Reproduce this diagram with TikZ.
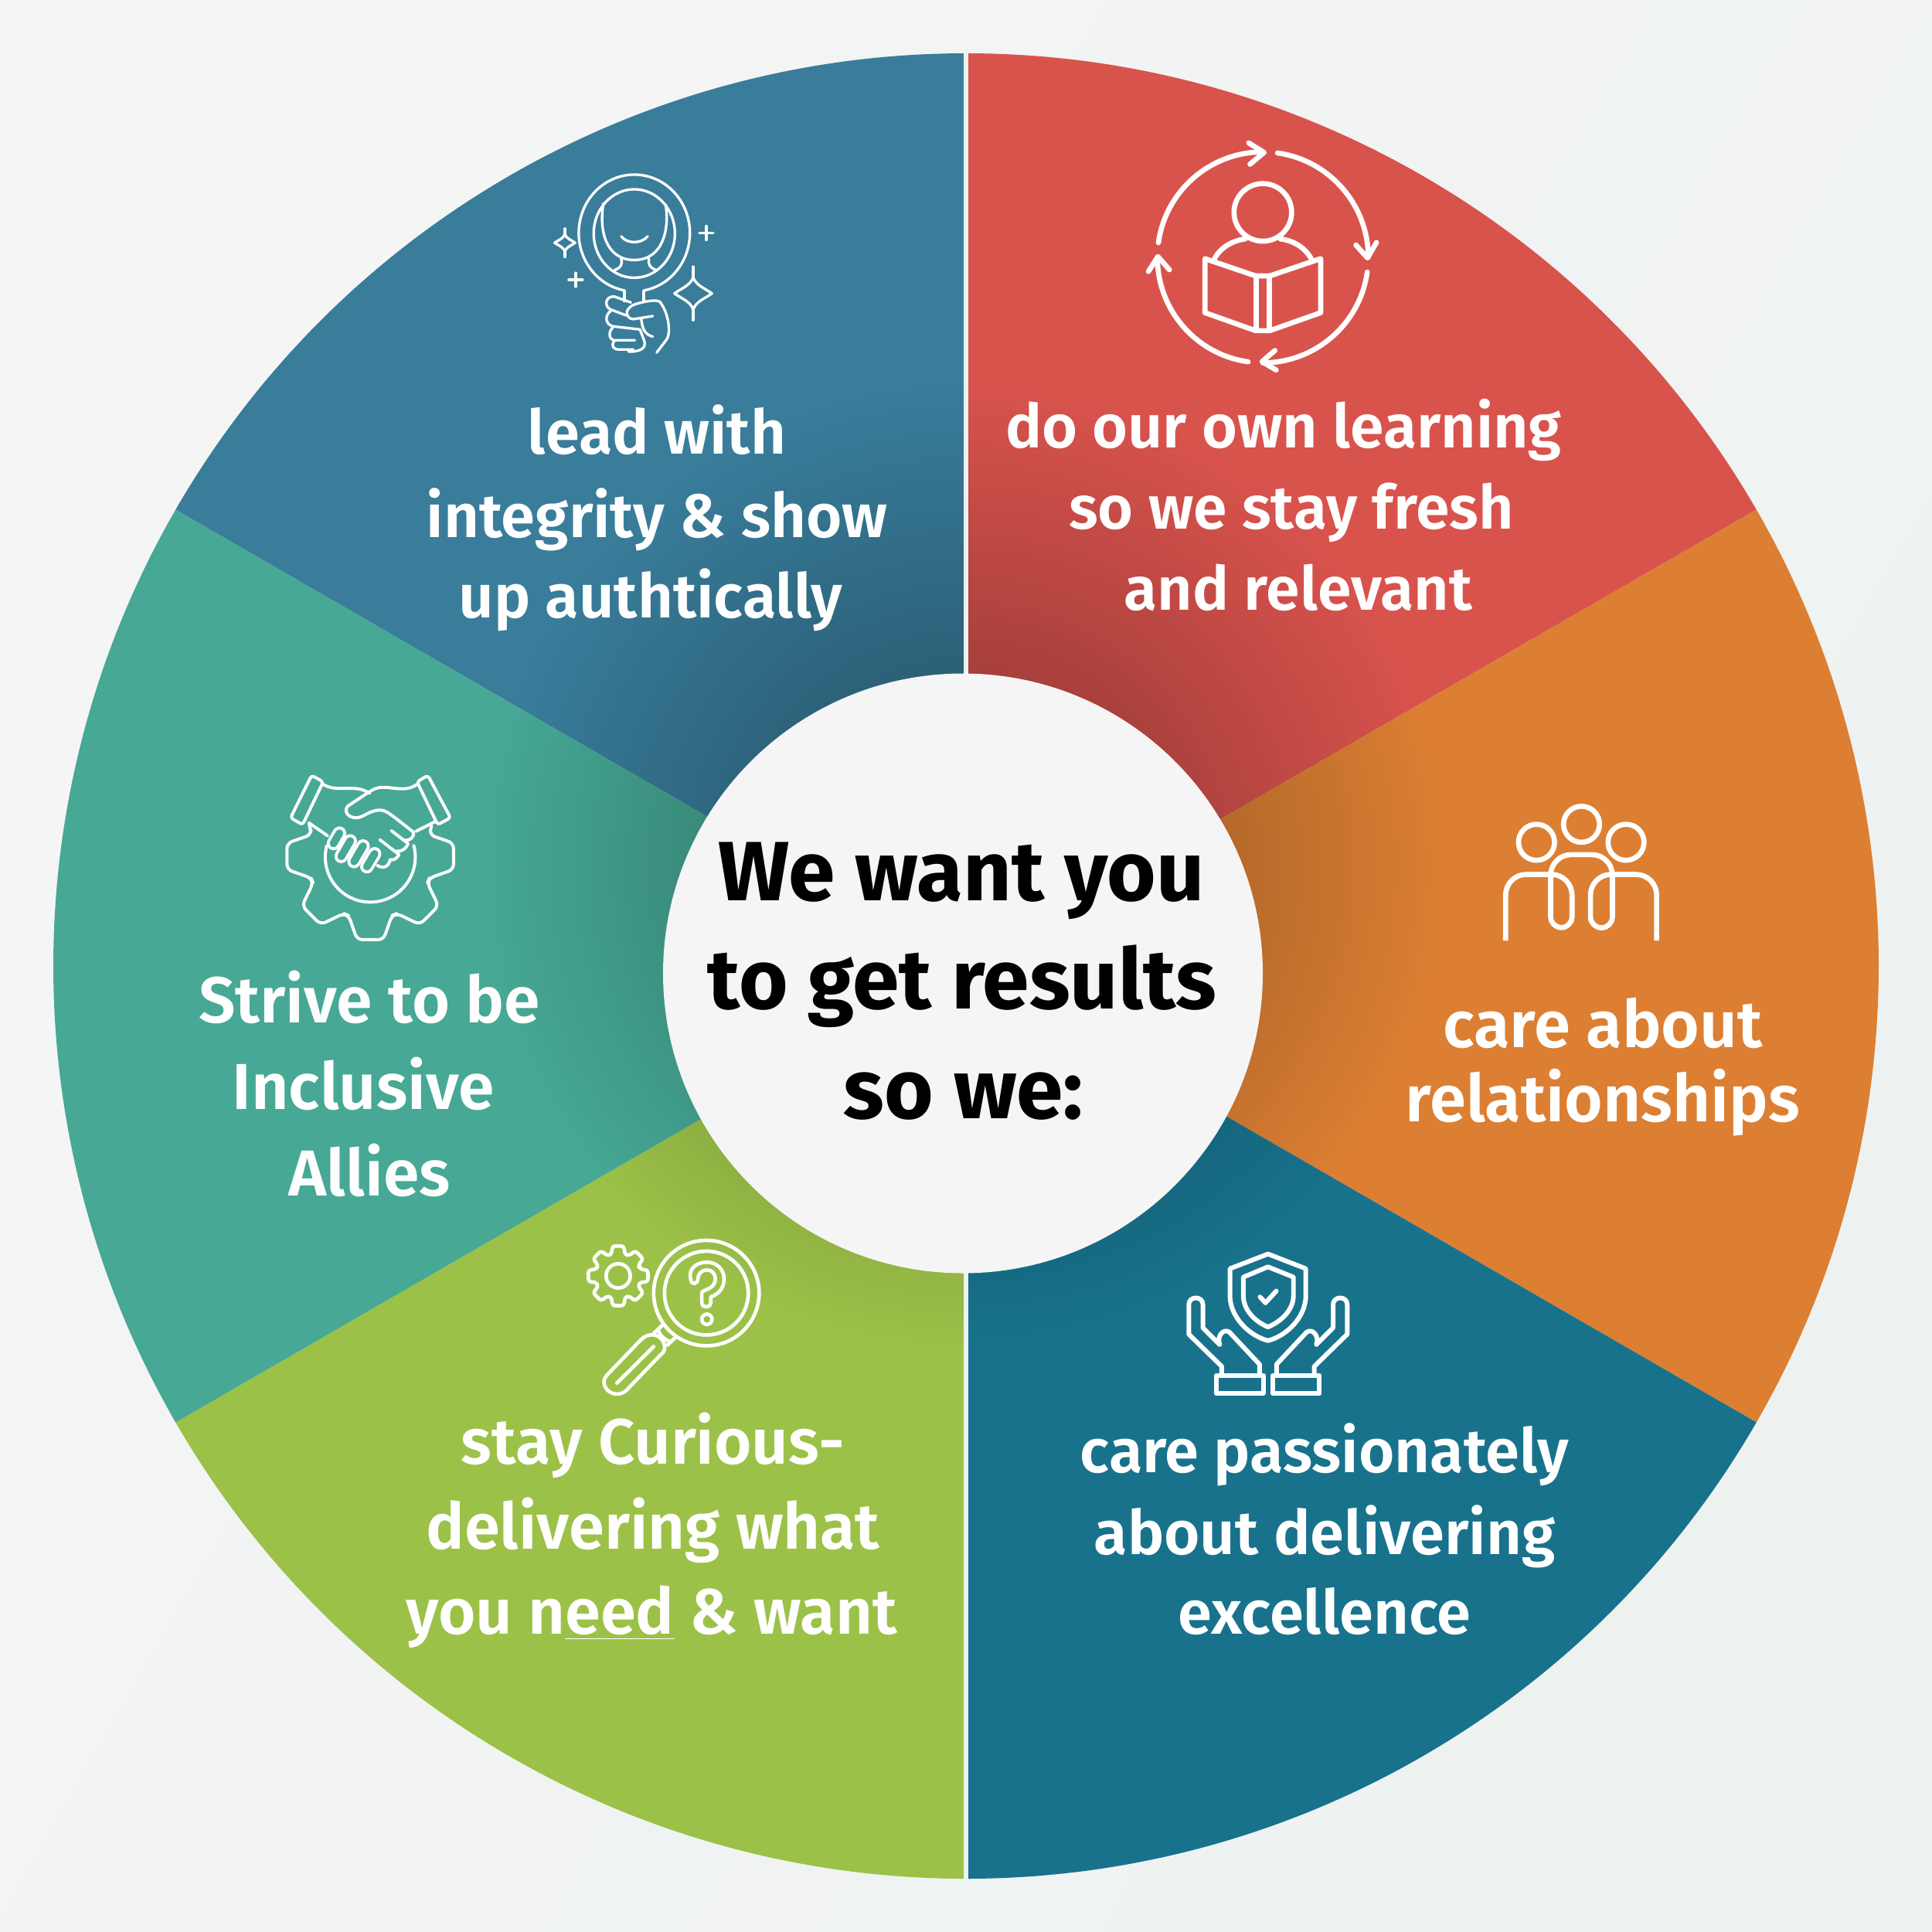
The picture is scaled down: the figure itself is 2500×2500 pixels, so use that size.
\documentclass[tikz,border=0pt]{standalone}
\usepackage{fontspec}
\setmainfont{Fira Sans}[UprightFont=* SemiBold,BoldFont=* Bold]
\usepackage{xcolor}
\usepackage{tikz}
\usetikzlibrary{fadings}
\definecolor{leadblue}{HTML}{397D9B}
\definecolor{learnred}{HTML}{D9534D}
\definecolor{careorange}{HTML}{DC7F33}
\definecolor{passteal}{HTML}{18728C}
\definecolor{curgreen}{HTML}{9CC148}
\definecolor{allyteal}{HTML}{46A895}
\definecolor{coredisc}{HTML}{F5F5F5}
\definecolor{pageleft}{HTML}{F5F5F5}
\definecolor{pageright}{HTML}{EDF2F1}
\tikzfading[name=coreshade,inner color=transparent!62,outer color=transparent!100]
\tikzset{zoomgrid/.style={x=0.003333cm,y=-0.003333cm},
	iconline/.style={draw=white,line cap=round,line join=round}}

\begin{document}
\begin{tikzpicture}[x=0.01cm,y=-0.01cm,
	segtext/.style={text=white,anchor=base,inner sep=0pt,font=\fontsize{#1}{#1}\selectfont},
	coretext/.style={text=black,anchor=base,inner sep=0pt,font=\fontsize{31}{31}\selectfont\bfseries}]

	\useasboundingbox (0,0) rectangle (2500,2500);
	\shade[left color=pageleft,right color=pageright,shading angle=60] (0,0) rectangle (2500,2500);

	% The wheel
	\coordinate (wheelC) at (1250,1250);
	\coordinate (wheelT) at (1250,65);
	\coordinate (wheelB) at (1250,2435);
	\begin{scope}[shift={(wheelC)}]
		\foreach \colr/\a in {leadblue/210,learnred/270,careorange/330,passteal/30,curgreen/90,allyteal/150}
			\fill[\colr] (0,0) -- (\a:1181) arc (\a:\a+60:1181) -- cycle;
	\end{scope}
	\begin{scope}
		\clip (wheelC) circle (1181);
		\fill[black,path fading=coreshade] (1250,1120) circle (620);
	\end{scope}
	\draw[pageright,line width=1.7pt] (wheelT) -- (wheelB);
	\fill[coredisc] (1246,1259.5) circle (388);

	% Labels
	\node [coretext] at (1244,1165) (coreA) {We want you};
	\node [coretext] at (1245,1305) (coreB) {to get results};
	\node [coretext] at (1247,1447) (coreC) {so we:};

	\node [segtext=22.6] at (850,587) (leadA) {lead with};
	\node [segtext=22.6] at (850,695) (leadB) {integrity \& show};
	\node [segtext=22.6] at (842,799) (leadC) {up authtically};

	\node [segtext=22.4] at (1661,579) (learnA) {do our own learning};
	\node [segtext=22.4] at (1671,684) (learnB) {so we stay fresh};
	\node [segtext=22.4] at (1680,789) (learnC) {and relevant};

	\node [segtext=24.2] at (2074,1355) (careA) {care about};
	\node [segtext=24.2] at (2074,1451) (careB) {relationships};

	\node [segtext=22.6] at (1714,1905) (passA) {care passionately};
	\node [segtext=22.6] at (1714,2011) (passB) {about delivering};
	\node [segtext=22.6] at (1714,2114) (passC) {excellence};

	\node [segtext=23.6] at (845,1894) (curA) {stay Curious-};
	\node [segtext=23.6] at (845,2004) (curB) {delivering what};
	\node [segtext=23.6] at (843,2114) (curC) {you n\underline{eed} \& want};

	\node [segtext=23.9] at (478,1323) (allyA) {Strive to be};
	\node [segtext=23.9] at (470,1435) (allyB) {Inclusive};
	\node [segtext=23.9] at (478,1547) (allyC) {Allies};

	% Mirror icon
	\begin{scope}[shift={(680,200)},zoomgrid,iconline,line width=0.95pt]
		\draw ([shift={(423,305)}]100:216 and 227) arc (100:440:216 and 227);
		\draw (423,307) ellipse (158 and 172);
		\draw (303,190) .. controls (285,290) and (310,410) .. (423,410) .. controls (535,410) and (560,290) .. (545,195);
		\draw (372,318) .. controls (395,348) and (450,348) .. (475,318);
		\draw (372,405) .. controls (378,430) and (370,440) .. (345,450);
		\draw (480,405) .. controls (476,430) and (484,440) .. (510,450);
		\draw (385,530) -- (385,570);
		\draw (460,530) -- (460,572);
		\foreach \cx/\cy/\w/\h in {153/343/40/55,652/540/73/104} {
			\draw (\cx,\cy-\h) -- (\cx,\cy-0.6*\h);
			\draw (\cx,\cy+\h) -- (\cx,\cy+0.6*\h);
			\draw (\cx,\cy-0.6*\h) .. controls (\cx+0.15*\w,\cy-0.3*\h) and (\cx+0.6*\w,\cy-0.2*\h) .. (\cx+\w,\cy)
				.. controls (\cx+0.6*\w,\cy+0.2*\h) and (\cx+0.15*\w,\cy+0.3*\h) .. (\cx,\cy+0.6*\h)
				.. controls (\cx-0.15*\w,\cy+0.3*\h) and (\cx-0.6*\w,\cy+0.2*\h) .. (\cx-\w,\cy)
				.. controls (\cx-0.6*\w,\cy-0.2*\h) and (\cx-0.15*\w,\cy-0.3*\h) .. cycle;
		}
		\foreach \cx/\cy in {703/305,195/487} {
			\draw (\cx-27,\cy) -- (\cx+27,\cy);
			\draw (\cx,\cy-27) -- (\cx,\cy+27);
		}
		\draw (465,572) .. controls (490,568) and (510,565) .. (522,572) .. controls (560,620) and (565,700) .. (548,720) -- (510,770);
		\draw (495,628) -- (420,640) .. controls (400,640) and (385,620) .. (400,600) .. controls (410,585) and (430,580) .. (465,572);
		\draw (410,575) -- (345,552) .. controls (310,550) and (305,590) .. (330,602) -- (390,625);
		\draw (335,605) .. controls (305,625) and (310,660) .. (340,668) -- (445,680);
		\draw (450,640) .. controls (455,680) and (465,700) .. (495,708);
		\draw (340,672) .. controls (320,690) and (325,720) .. (345,722) -- (425,722);
		\draw (345,725) .. controls (330,745) and (345,758) .. (360,758) -- (420,758);
		\draw (445,680) -- (462,725) .. controls (470,750) and (450,768) .. (400,766);
	\end{scope}

	% Reader icon
	\begin{scope}[shift={(1470,160)},zoomgrid,iconline,line width=1.89pt]
		\foreach \a in {188,278,8,98}
			\draw ([shift={(493,520)}]\a:410) arc (\a:\a+82:410);
		\draw (438,75) -- (498,112) -- (443,158);
		\draw (855,472) -- (900,522) -- (935,462);
		\draw (540,882) -- (490,925) -- (545,958);
		\draw (48,575) -- (85,517) -- (130,568);
		\draw (493,345) circle (112);
		\draw (305,525) .. controls (330,480) and (375,455) .. (425,448);
		\draw (681,525) .. controls (656,480) and (611,455) .. (561,448);
		\draw (268,525) -- (465,592) -- (520,592) -- (718,525) -- (718,735) -- (520,805) -- (465,805) -- (268,735) -- cycle;
		\draw (468,592) -- (468,805);
		\draw (518,592) -- (518,805);
	\end{scope}

	% People icon
	\begin{scope}[shift={(1920,1020)},zoomgrid,iconline,line cap=butt,line width=1.89pt]
		\draw (205,210) circle (70);
		\draw (380,140) circle (70);
		\draw (553,210) circle (70);
		\draw (85,592) -- (85,415) arc (180:270:80) -- (263,335) arc (270:360:80) -- (343,500) arc (0:180:41.5)
			-- (260,338) arc (180:270:80) -- (420,258) arc (270:360:80) -- (500,500) arc (0:180:42.5)
			-- (415,415) arc (180:270:80) -- (592,335) arc (270:360:80) -- (672,592);
	\end{scope}

	% Shield icon
	\begin{scope}[shift={(1510,1600)},zoomgrid,iconline,line width=1.7pt]
		\draw (393,68) -- (540,125) -- (540,230) .. controls (540,310) and (470,385) .. (393,405)
			.. controls (316,385) and (245,310) .. (245,230) -- (245,125) -- cycle;
		\draw (393,118) -- (492,158) -- (492,230) .. controls (492,285) and (445,330) .. (393,352)
			.. controls (341,330) and (297,285) .. (297,230) -- (297,158) -- cycle;
		\draw (362,235) -- (383,258) -- (425,212);
		\begin{scope}[shift={(393,0)}]
			\foreach \s in {1,-1} {
				\draw (\s*-180,535) -- (\s*-180,505) -- (\s*-308,380) -- (\s*-308,265)
					.. controls (\s*-308,230) and (\s*-253,230) .. (\s*-253,265) -- (\s*-253,355) -- (\s*-188,420)
					.. controls (\s*-200,390) and (\s*-175,355) .. (\s*-150,372) -- (\s*-33,497) -- (\s*-33,535);
				\draw (\s*-200,540) rectangle (\s*-18,610);
			}
		\end{scope}
	\end{scope}

	% Magnifier icon
	\begin{scope}[shift={(740,1590)},zoomgrid,iconline,line width=1.32pt]
		\draw (523,250) circle (205);
		\draw (523,250) circle (163);
		\draw (463,200) .. controls (450,160) and (480,130) .. (525,130) .. controls (565,130) and (592,160) .. (592,195)
			.. controls (592,230) and (570,255) .. (540,265) -- (540,290) .. controls (540,308) and (505,308) .. (505,290)
			-- (505,250) .. controls (505,235) and (555,240) .. (558,195) .. controls (558,175) and (545,160) .. (525,160)
			.. controls (505,160) and (490,175) .. (490,195) .. controls (490,215) and (465,220) .. (463,200) -- cycle;
		\draw (525,352) circle (20);
		\draw (320,405) -- (352,375);
		\draw (372,452) -- (403,422);
		\draw (140,565) -- (270,430) .. controls (300,400) and (345,410) .. (358,445) .. controls (365,465) and (360,480) .. (345,490)
			-- (215,625) .. controls (185,660) and (125,640) .. (125,595) .. controls (125,585) and (130,575) .. (140,565);
		\draw (335,392) .. controls (342,415) and (360,432) .. (385,440);
		\draw (175,600) -- (318,458);
		\begin{scope}[shift={(180,183)}]
			\draw (0,0) circle (47);
			\draw[rounded corners=1pt] (-17:88)
				\foreach \a in {0,45,...,315} { -- (\a-17:88) -- (\a-11:118) -- (\a+11:118) -- (\a+17:88) } -- cycle;
		\end{scope}
	\end{scope}

	% Handshake icon
	\begin{scope}[shift={(350,980)},zoomgrid,iconline,line width=1.13pt]
		\begin{scope}[shift={(388,385)}]
			\draw[rounded corners=2pt] (-238,-130) -- (200:245)
				\foreach \a in {180,135,90,45,0} { -- (\a+20:245) -- (\a+9:328) -- (\a-9:328) -- (\a-20:245) } -- (238,-120);
		\end{scope}
		\draw ([shift={(388,388)}]195:175) arc (195:-15:175);
		\draw[rounded corners=1pt] (160,70) -- (205,95) -- (125,262) -- (78,235) -- cycle;
		\draw[rounded corners=1pt] (612,70) -- (570,95) -- (650,262) -- (700,235) -- cycle;
		\draw (205,105) .. controls (260,140) and (330,100) .. (385,140);
		\draw (570,105) .. controls (520,140) and (470,110) .. (420,118) .. controls (400,122) and (390,130) .. (300,190)
			.. controls (285,210) and (300,235) .. (335,235) .. controls (360,235) and (385,205) .. (425,205)
			.. controls (450,205) and (465,220) .. (555,290) .. controls (560,310) and (545,325) .. (515,322);
		\draw (565,288) -- (640,250);
		\draw (150,255) -- (222,305);
		\draw (470,285) -- (535,335) .. controls (525,360) and (510,365) .. (490,365);
		\draw (425,320) -- (500,378) .. controls (490,395) and (480,400) .. (465,398);
		\draw (465,398) .. controls (460,425) and (440,435) .. (415,420);
		\foreach \xa/\ya/\xb/\yb in {245/335/268/295,275/385/310/325,325/405/360/345,375/425/405/375} {
			\draw[line width=5pt] (\xa,\ya) -- (\xb,\yb);
			\draw[allyteal,line width=2.8pt] (\xa,\ya) -- (\xb,\yb);
		}
	\end{scope}

\end{tikzpicture}
\end{document}
